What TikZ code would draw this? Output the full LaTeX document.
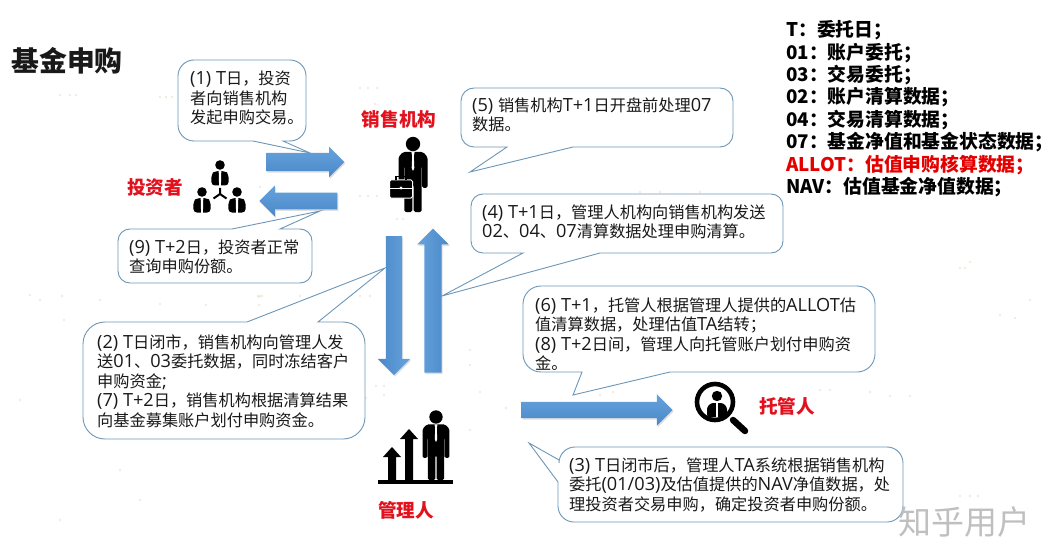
\documentclass[tikz,border=0pt]{standalone}
\usepackage{fontspec}
\setmainfont{Noto Sans CJK SC}
\newfontfamily\latinrun[Scale=1.12]{Open Sans}
\newcommand{\Lt}[1]{{\latinrun #1}}
\usetikzlibrary{shapes.arrows,shadows}
\definecolor{boxline}{HTML}{6C97B8}
\definecolor{arrowA}{HTML}{66A3DD}
\definecolor{arrowB}{HTML}{4A88C8}
\definecolor{redlabel}{HTML}{E2111D}
\definecolor{speck}{HTML}{F1E6D4}
\newcommand{\callout}[9]{%
  \draw[calloutline] #1 -- #2 -- #3 [rounded corners=#8] -- #4 -- #5 -- #6 -- #7 [sharp corners] -- cycle;#9}
\newcommand{\man}[3]{% x,y of head centre, scale
  \begin{scope}[shift={(#1,#2)},scale=#3]
    \fill (0,0) circle (7.2);
    \fill[rounded corners=1.6pt] (-14.5,44)--(-14.5,13)--(-10,8)--(10,8)--(14.5,13)--(14.5,44)--(9.2,44)--(9.2,22)--(8.7,22)--(8.7,68)--(0.7,68)--(0.7,41)--(-0.7,41)--(-0.7,68)--(-8.7,68)--(-8.7,22)--(-9.2,22)--(-9.2,44)--cycle;
    \fill[white] (-1.6,8)--(1.6,8)--(0.8,12)--(1.3,24)--(0,27)--(-1.3,24)--(-0.8,12)--cycle;
  \end{scope}}
\newcommand{\bust}[3]{% x,y of head centre, scale
  \begin{scope}[shift={(#1,#2)},scale=#3]
    \fill (0,0) circle (4.8);
    \fill[rounded corners=3.5pt] (-8.6,20.5)--(-8.6,9)--(-5,6)--(5,6)--(8.6,9)--(8.6,20.5)--cycle;
    \fill[white] (-1.3,6)--(1.3,6)--(0.9,20.8)--(-0.9,20.8)--cycle;
  \end{scope}}
\tikzset{
  calloutline/.style={draw=boxline,fill=white,line width=0.9pt},
  calloutext/.style={anchor=west,align=left,inner sep=0pt,font=\fontsize{16.2}{19.5}\selectfont,text=black!90},
  rolelabel/.style={font=\fontsize{18.6}{22}\selectfont\bfseries,text=redlabel,inner sep=0pt},
  blockarrow/.style={single arrow,draw=none,inner sep=0pt,single arrow tip angle=90,
    general shadow={shadow xshift=1pt,shadow yshift=-1.5pt,fill=black!35,opacity=.35}},
}
\begin{document}
\begin{tikzpicture}[x=1pt,y=-1pt]
\useasboundingbox (0,0) rectangle (1058,559);
\fill[white] (0,0) rectangle (1058,559);
% faint background specks
\foreach \p in {(160,97),(166,97),(172,97),(360,88),(368,88),(377,88),(375,104),(360,196),(368,196),(377,196),(397,219),(403,219),(260,187),(258,296),(262,296),(160,304),(206,305),(259,305),(259,297),(60,95),(70,95),(76,95),(30,295),(40,300),(62,296),(64,320),(20,400),(100,300),(300,296),(260,296),(360,296),(370,296),(384,386),(376,386),(384,395),(366,398),(320,432),(330,390),(480,392),(600,395),(613,392),(470,350),(470,365),(506,408),(820,390),(830,390),(870,392),(890,396),(910,396),(960,268),(965,268),(970,262),(1000,315),(1015,318),(1030,300),(862,88),(875,88),(885,88),(802,96),(640,192),(660,192),(700,192),(470,430),(700,520),(60,520),(120,470),(140,500),(700,210),(960,496),(970,496),(978,496)}
  \fill[speck] \p circle (1.1);
% callouts
\callout{(253,141)}{(310,153)}{(283,141)}{(306,141)}{(306,60)}{(178,60)}{(178,141)}{16}{}
\callout{(232,229)}{(320,211)}{(280,229)}{(312,229)}{(312,283)}{(118,283)}{(118,229)}{12}{}
\callout{(573,147)}{(470,172)}{(507,147)}{(461,147)}{(461,88)}{(733,88)}{(733,147)}{13}{}
\callout{(600,253)}{(442,296)}{(523,253)}{(471,253)}{(471,194)}{(783,194)}{(783,253)}{12}{}
\callout{(247,322)}{(385,268)}{(318,322)}{(365,322)}{(365,439)}{(83,439)}{(83,322)}{22}{}
\callout{(670,372)}{(573,395)}{(582,372)}{(523,372)}{(523,286)}{(875,286)}{(875,372)}{18}{}
\callout{(558,482)}{(529,443)}{(559,460)}{(559,447)}{(903,447)}{(903,522)}{(558,522)}{16}{}
% callout texts
\node[calloutext] (t1) at (190,98) {\Lt{(1) T}日，投资\\者向销售机构\\发起申购交易。};
\node[calloutext] (t5) at (472,115) {\Lt{(5) }销售机构\Lt{T+1}日开盘前处理\Lt{07}\\数据。};
\node[calloutext] (t4) at (482,222) {\Lt{(4) T+1}日，管理人机构向销售机构发送\\\Lt{02}、\Lt{04}、\Lt{07}清算数据处理申购清算。};
\node[calloutext] (t9) at (129,257) {\Lt{(9) T+2}日，投资者正常\\查询申购份额。};
\node[calloutext] (t2) at (97,381) {\Lt{(2) T}日闭市，销售机构向管理人发\\送\Lt{01}、\Lt{03}委托数据，同时冻结客户\\申购资金\Lt{;}\\\Lt{(7) T+2}日，销售机构根据清算结果\\向基金募集账户划付申购资金。};
\node[calloutext] (t6) at (535,334) {\Lt{(6) T+1}，托管人根据管理人提供的\Lt{ALLOT}估\\值清算数据，处理估值\Lt{TA}结转；\\\Lt{(8) T+2}日间，管理人向托管账户划付申购资\\金。};
\node[calloutext] (t3) at (569,484.5) {\Lt{(3) T}日闭市后，管理人\Lt{TA}系统根据销售机构\\委托\Lt{(01/03)}及估值提供的\Lt{NAV}净值数据，处\\理投资者交易申购，确定投资者申购份额。};
% block arrows
\node[blockarrow,top color=arrowA,bottom color=arrowB,minimum height=78pt,minimum width=30pt,single arrow head extend=6pt] (a1) at (300.8,162) {\rule{0pt}{18pt}};
\node[blockarrow,top color=arrowA,bottom color=arrowB,shape border rotate=180,minimum height=78pt,minimum width=31pt,single arrow head extend=7pt] (a2) at (302.5,201) {\rule{0pt}{16pt}};
\node[blockarrow,left color=arrowB,right color=arrowA,shape border rotate=270,minimum height=139pt,minimum width=32pt,single arrow head extend=8pt] (a3) at (394,301.5) {\rule{16pt}{0pt}};
\node[blockarrow,left color=arrowA,right color=arrowB,shape border rotate=90,minimum height=144pt,minimum width=31pt,single arrow head extend=7pt] (a4) at (433,305) {\rule{17pt}{0pt}};
\node[blockarrow,top color=arrowA,bottom color=arrowB,minimum height=151pt,minimum width=31pt,single arrow head extend=7.5pt] (a5) at (593,410) {\rule{0pt}{16pt}};
% icons
\man{413}{144}{1}
\fill[black,draw=white,line width=1pt,rounded corners=1.5pt] (389.5,180)--(412.5,180)--(412.5,198)--(389.5,198)--cycle;
\draw[line width=1.5pt] (396,180)--(396,176.5)--(406,176.5)--(406,180);
\draw[white,line width=.8pt] (390,188)--(412,188);
\fill[white] (401,188) circle (1.6);
\bust{220}{165}{1}
\bust{202}{192}{1}
\bust{237}{192}{1}
\draw[line width=2pt] (220,188)--(220,194) (220,194)--(213.5,198.5) (220,194)--(226.5,198.5);
\man{436}{417}{0.93}
\fill (378,480) rectangle (453,484);
\fill (392,447)--(401,457)--(396,457)--(396,481)--(388,481)--(388,457)--(383,457)--cycle;
\fill (409,429)--(418,439)--(413,439)--(413,481)--(405,481)--(405,439)--(400,439)--cycle;
\draw[line width=4.6pt] (715,402) circle (18);
\draw[line width=6.5pt,line cap=round] (733,420)--(745,431);
\fill (717,396) circle (5.2);
\fill[rounded corners=2.5pt] (707,417)--(707,407)--(711,403)--(723,403)--(727,407)--(727,417)--cycle;
\fill[white] (716,403)--(718,403)--(718,417)--(716,417)--cycle;
% labels
\node[rolelabel] (lsales) at (399,119) {销售机构};
\node[rolelabel] (linv) at (155,187) {投资者};
\node[rolelabel] (lcust) at (787,406) {托管人};
\node[rolelabel] (lmgr) at (406,510) {管理人};
\node[inner sep=0pt,font=\fontsize{27.8}{30}\selectfont\bfseries,text=black!90] (title) at (67,60.5) {基金申购};
\node[anchor=north west,align=left,inner sep=0pt,font=\fontsize{18.8}{22.4}\selectfont\bfseries] (legend) at (786,20.5) {T：委托日；\\01：账户委托；\\03：交易委托；\\02：账户清算数据；\\04：交易清算数据；\\07：基金净值和基金状态数据；\\\textcolor{red!90!black}{ALLOT：估值申购核算数据；}\\NAV：估值基金净值数据；};
\node[inner sep=0pt,font=\fontsize{33}{36}\selectfont,text=black!25] (mark) at (964,522) {知乎用户};
\end{tikzpicture}
\end{document}
